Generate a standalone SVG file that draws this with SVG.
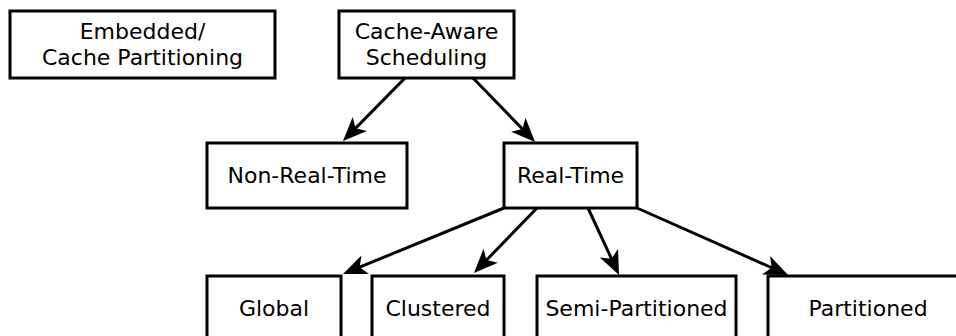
<svg xmlns="http://www.w3.org/2000/svg" width="956" height="336" viewBox="0 0 956 336">
<style>
.box{fill:#fff;stroke:#000;stroke-width:3}
.lbl{font-family:"DejaVu Sans",sans-serif;font-size:22px;text-anchor:middle;fill:#000}
.edge{stroke:#000;stroke-width:3;fill:none;marker-end:url(#arr)}
</style>
<defs>
<marker id="arr" markerUnits="userSpaceOnUse" viewBox="-10 -12 28 24" markerWidth="28" markerHeight="24" refX="0" refY="0" orient="auto">
<path d="M16,0 L-8,-10 L-2,0 L-8,10 Z" fill="#000"/>
</marker>
</defs>
<rect width="956" height="336" fill="#fff"/>
<g id="connectors">
<line class="edge" x1="405" y1="78" x2="354.2" y2="129.6"/>
<line class="edge" x1="473" y1="78" x2="523.9" y2="130.5"/>
<line class="edge" x1="504" y1="208" x2="357.8" y2="267.9"/>
<line class="edge" x1="537" y1="208" x2="485.1" y2="261.5"/>
<line class="edge" x1="588" y1="208" x2="612.3" y2="260.5"/>
<line class="edge" x1="637" y1="208" x2="773.4" y2="268.5"/>
</g>
<g id="embedded">
<rect class="box" x="10" y="11" width="265" height="67"/>
<text class="lbl" x="142.5" y="38.5">Embedded/</text>
<text class="lbl" x="142.5" y="64.5">Cache Partitioning</text>
</g>
<g id="cache-aware">
<rect class="box" x="339" y="11" width="175" height="67"/>
<text class="lbl" x="426.5" y="38.5">Cache-Aware</text>
<text class="lbl" x="426.5" y="64.5">Scheduling</text>
</g>
<g id="non-real-time">
<rect class="box" x="207" y="143" width="200" height="65"/>
<text class="lbl" x="307" y="183">Non-Real-Time</text>
</g>
<g id="real-time">
<rect class="box" x="504" y="143" width="133" height="65"/>
<text class="lbl" x="570.5" y="183">Real-Time</text>
</g>
<g id="global">
<rect class="box" x="207" y="276" width="134" height="80"/>
<text class="lbl" x="274" y="316">Global</text>
</g>
<g id="clustered">
<rect class="box" x="372" y="276" width="132" height="80"/>
<text class="lbl" x="438" y="316">Clustered</text>
</g>
<g id="semi-partitioned">
<rect class="box" x="537" y="276" width="199" height="80"/>
<text class="lbl" x="636.5" y="316">Semi-Partitioned</text>
</g>
<g id="partitioned">
<rect class="box" x="768" y="276" width="200" height="80"/>
<text class="lbl" x="868" y="316">Partitioned</text>
</g>
</svg>
